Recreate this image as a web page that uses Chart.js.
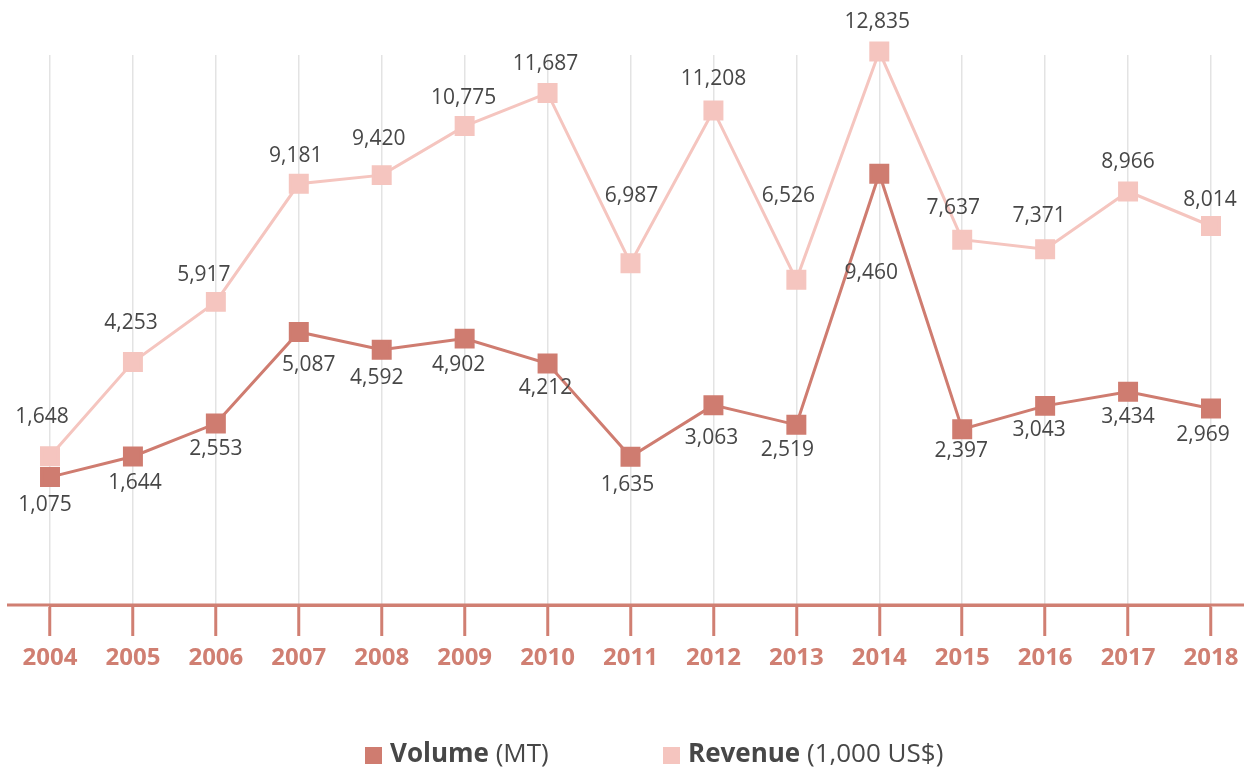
<!DOCTYPE html>
<html>
<head>
<meta charset="utf-8">
<script src="https://cdn.jsdelivr.net/npm/chart.js@4"></script>
<style>
  html, body { margin: 0; padding: 0; background: #fff; overflow: hidden; }
  canvas { display: block; }
</style>
</head>
<body>
<canvas id="tradeChart" width="1244" height="770"></canvas>
<script>
const years = ["2004", "2005", "2006", "2007", "2008", "2009", "2010", "2011", "2012", "2013", "2014", "2015", "2016", "2017", "2018"];
const volume = [1075, 1644, 2553, 5087, 4592, 4902, 4212, 1635, 3063, 2519, 9460, 2397, 3043, 3434, 2969];
const revenue = [1648, 4253, 5917, 9181, 9420, 10775, 11687, 6987, 11208, 6526, 12835, 7637, 7371, 8966, 8014];

const volumeColor = "#cf7c70";
const revenueColor = "#f5c5bf";
const axisColor = "#d07f72";
const textColor = "#474747";
const fontName = "'Open Sans', 'Noto Sans', sans-serif";

// where each value label sits relative to its point [dx, dy]
const volumeLabelShift = [[-5, 28], [2, 27], [0, 25], [10, 33], [-5, 28], [-6, 26], [-2, 24], [-3, 28], [-2, 33], [-9, 25], [-8, 99], [-1, 22], [-6, 24], [0, 25], [-8, 26]];
const revenueLabelShift = [[-8, -39], [-2, -39], [-12, -27], [-3, -28], [-3, -36], [-1, -28], [-2, -29], [1, -67], [0, -31], [-8, -84], [-2, -30], [-9, -32], [-6, -33], [0, -30], [-1, -26]];

const fmt = v => v.toLocaleString("en-US");

// value labels next to every point
const valueLabels = {
  id: "valueLabels",
  afterDatasetsDraw(chart) {
    const ctx = chart.ctx;
    ctx.save();
    ctx.font = "21px " + fontName;
    ctx.fillStyle = textColor;
    ctx.textAlign = "center";
    ctx.textBaseline = "middle";
    chart.data.datasets.forEach((ds, di) => {
      const meta = chart.getDatasetMeta(di);
      meta.data.forEach((pt, i) => {
        const s = ds.labelShift[i];
        ctx.fillText(fmt(ds.data[i]), pt.x + s[0], pt.y + s[1]);
      });
    });
    ctx.restore();
  }
};

// baseline runs past the plot edges
const baseline = {
  id: "baseline",
  afterDraw(chart) {
    const ctx = chart.ctx;
    const y = chart.chartArea.bottom;
    ctx.save();
    ctx.strokeStyle = axisColor;
    ctx.lineWidth = 3;
    ctx.beginPath();
    ctx.moveTo(7, y);
    ctx.lineTo(chart.width, y);
    ctx.stroke();
    ctx.restore();
  }
};

// legend with bold name and plain unit
const unitLegend = {
  id: "unitLegend",
  afterDraw(chart) {
    const ctx = chart.ctx;
    const items = [
      { x: 365, color: volumeColor, name: "Volume", unit: " (MT)" },
      { x: 663, color: revenueColor, name: "Revenue", unit: " (1,000 US$)" }
    ];
    const y = 755;
    ctx.save();
    ctx.textBaseline = "middle";
    ctx.textAlign = "left";
    items.forEach(it => {
      ctx.fillStyle = it.color;
      ctx.fillRect(it.x, y - 8, 17, 17);
      let tx = it.x + 25;
      ctx.fillStyle = textColor;
      ctx.font = "bold 26px " + fontName;
      ctx.fillText(it.name, tx, y);
      tx += ctx.measureText(it.name).width;
      ctx.font = "26px " + fontName;
      ctx.fillText(it.unit, tx, y);
    });
    ctx.restore();
  }
};

const ctx = document.getElementById("tradeChart").getContext("2d");

new Chart(ctx, {
  type: "line",
  data: {
    labels: years,
    datasets: [
      {
        label: "Volume (MT)",
        data: volume,
        labelShift: volumeLabelShift,
        borderColor: volumeColor,
        backgroundColor: volumeColor,
        borderWidth: 3,
        pointStyle: "rect",
        pointRadius: 12,
        pointHoverRadius: 12,
        clip: false,
        tension: 0
      },
      {
        label: "Revenue (1,000 US$)",
        data: revenue,
        labelShift: revenueLabelShift,
        borderColor: revenueColor,
        backgroundColor: revenueColor,
        borderWidth: 3,
        pointStyle: "rect",
        pointRadius: 12,
        pointHoverRadius: 12,
        clip: false,
        tension: 0
      }
    ]
  },
  options: {
    responsive: false,
    animation: false,
    devicePixelRatio: 1,
    layout: {
      padding: { left: 50, right: 33, top: 55, bottom: 0 }
    },
    plugins: {
      legend: { display: false },
      tooltip: { enabled: false }
    },
    scales: {
      x: {
        offset: false,
        afterFit(scale) {
          scale.height = 165;
          scale.paddingLeft = 0;
          scale.paddingRight = 0;
        },
        grid: {
          color: "#e3e3e3",
          lineWidth: 1.5,
          drawTicks: true,
          tickLength: 31,
          tickColor: axisColor,
          tickWidth: 3
        },
        border: { color: axisColor, width: 3 },
        ticks: {
          color: axisColor,
          padding: 8,
          maxRotation: 0,
          autoSkip: false,
          font: { family: fontName, size: 24, weight: "bold" }
        }
      },
      y: {
        display: false,
        min: -2460,
        max: 12740
      }
    }
  },
  plugins: [valueLabels, baseline, unitLegend]
});
</script>
</body>
</html>
